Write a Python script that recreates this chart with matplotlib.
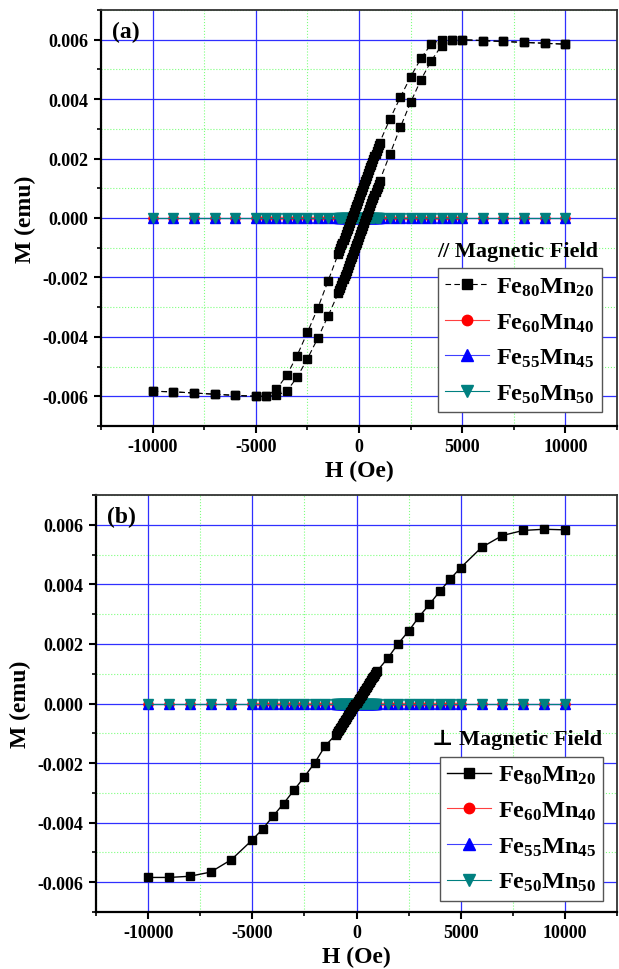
import matplotlib
matplotlib.use('Agg')
import matplotlib.pyplot as plt
from matplotlib.ticker import MultipleLocator, FormatStrFormatter

plt.rcParams['font.family'] = ['Liberation Serif', 'DejaVu Serif']
plt.rcParams['font.weight'] = 'bold'
plt.rcParams['mathtext.fontset'] = 'custom'
plt.rcParams['mathtext.rm'] = 'Liberation Serif:bold'
plt.rcParams['mathtext.it'] = 'Liberation Serif:bold'
plt.rcParams['mathtext.bf'] = 'Liberation Serif:bold'
plt.rcParams['axes.unicode_minus'] = False

# ---------------- data ----------------
H_SWEEP = [-10000, -9000, -8000, -7000, -6000, -5000, -4500, -4000, -3500, -3000,
           -2500, -2000, -1500,
           -1000, -950, -900, -850, -800, -750, -700, -650, -600, -550, -500,
           -450, -400, -350, -300, -250, -200, -150, -100, -50, 0,
           50, 100, 150, 200, 250, 300, 350, 400, 450, 500,
           550, 600, 650, 700, 750, 800, 850, 900, 950, 1000,
           1500, 2000, 2500, 3000, 3500, 4000, 4500, 5000, 6000, 7000, 8000,
           9000, 10000]

# panel (a): parallel field, Fe80Mn20 loop (both branches listed in H_SWEEP order)
M80_A_ASC = [-0.00583, -0.00585, -0.00589, -0.00593, -0.00597, -0.00600, -0.00600,
             -0.00597, -0.00583, -0.00536, -0.00474, -0.00405, -0.00330,
             -0.00252, -0.00243, -0.00234, -0.00224, -0.00215, -0.00205, -0.00196,
             -0.00187, -0.00177, -0.00168, -0.00158, -0.00149, -0.00139, -0.00130,
             -0.00121, -0.00111, -0.00102, -0.00092, -0.00083, -0.00073, -0.00064,
             -0.00055, -0.00045, -0.00036, -0.00026, -0.00017, -0.00007, 0.00002,
             0.00011, 0.00021, 0.00030, 0.00040, 0.00049, 0.00059, 0.00068,
             0.00077, 0.00087, 0.00096, 0.00106, 0.00115, 0.00125,
             0.00215, 0.00305, 0.00389, 0.00465, 0.00529, 0.00580, 0.00600,
             0.00600, 0.00597, 0.00594, 0.00591, 0.00588, 0.00585]
M80_A_DESC = [-0.00583, -0.00585, -0.00589, -0.00593, -0.00597, -0.00600, -0.00600,
              -0.00577, -0.00529, -0.00463, -0.00385, -0.00304, -0.00212,
              -0.00120, -0.00111, -0.00101, -0.00092, -0.00083, -0.00073, -0.00064,
              -0.00055, -0.00045, -0.00036, -0.00027, -0.00017, -0.00008, 0.00002,
              0.00011, 0.00020, 0.00030, 0.00039, 0.00048, 0.00058, 0.00067,
              0.00076, 0.00086, 0.00095, 0.00104, 0.00114, 0.00123, 0.00132,
              0.00142, 0.00151, 0.00161, 0.00170, 0.00179, 0.00189, 0.00198,
              0.00207, 0.00217, 0.00226, 0.00235, 0.00245, 0.00254,
              0.00333, 0.00406, 0.00475, 0.00537, 0.00586, 0.00600, 0.00600,
              0.00600, 0.00597, 0.00594, 0.00591, 0.00588, 0.00585]

# panel (b): perpendicular field, Fe80Mn20
M80_B = [-0.00584, -0.00584, -0.00580, -0.00566, -0.00524, -0.00458, -0.00421,
         -0.00378, -0.00336, -0.00291, -0.00246, -0.00199, -0.00142,
         -0.00105, -0.00099, -0.00094, -0.00088, -0.00083, -0.00078, -0.00072,
         -0.00067, -0.00062, -0.00056, -0.00051, -0.00045, -0.00040, -0.00035,
         -0.00029, -0.00024, -0.00019, -0.00013, -0.00008, -0.00002, 0.00003,
         0.00008, 0.00014, 0.00019, 0.00024, 0.00030, 0.00035, 0.00041,
         0.00046, 0.00051, 0.00057, 0.00062, 0.00068, 0.00073, 0.00078,
         0.00084, 0.00089, 0.00094, 0.00100, 0.00105, 0.00110,
         0.00152, 0.00201, 0.00243, 0.00291, 0.00333, 0.00377, 0.00418,
         0.00456, 0.00524, 0.00564, 0.00581, 0.00585, 0.00583]

# Fe60Mn40, Fe55Mn45, Fe50Mn50: essentially zero magnetisation in both panels
M_SMALL = [0.0, 0.0, 0.0, 0.0, 0.0, 0.0, 0.0, 0.0, 0.0, 0.0, 0.0, 0.0, 0.0,
           0.0, 0.0, 0.0, 0.0, 0.0, 0.0, 0.0, 0.0, 0.0, 0.0, 0.0, 0.0, 0.0, 0.0,
           0.0, 0.0, 0.0, 0.0, 0.0, 0.0, 0.0, 0.0, 0.0, 0.0, 0.0, 0.0, 0.0, 0.0,
           0.0, 0.0, 0.0, 0.0, 0.0, 0.0, 0.0, 0.0, 0.0, 0.0, 0.0, 0.0, 0.0,
           0.0, 0.0, 0.0, 0.0, 0.0, 0.0, 0.0, 0.0, 0.0, 0.0, 0.0, 0.0, 0.0]

LABELS = ['Fe$_{80}$Mn$_{20}$', 'Fe$_{60}$Mn$_{40}$', 'Fe$_{55}$Mn$_{45}$', 'Fe$_{50}$Mn$_{50}$']
PANEL_TAGS = ['(a)', '(b)']
FIELD_TITLES = ['// Magnetic Field', '\u22a5 Magnetic Field']
X_LABEL = 'H (Oe)'
Y_LABEL = 'M (emu)'

# ---------------- figure ----------------
fig = plt.figure(figsize=(6.19, 9.70), dpi=100)
W, Hh = 619.0, 970.0
ax_a = fig.add_axes([101 / W, 1 - 427 / Hh, (617 - 101) / W, 416 / Hh])
ax_b = fig.add_axes([96 / W, 1 - 913 / Hh, (617 - 96) / W, 417 / Hh])

TEAL = '#008080'


def style_axes(ax):
    ax.set_xlim(-12500, 12500)
    ax.set_ylim(-0.007, 0.007)
    ax.xaxis.set_major_locator(MultipleLocator(5000))
    ax.xaxis.set_minor_locator(MultipleLocator(2500))
    ax.yaxis.set_major_locator(MultipleLocator(0.002))
    ax.yaxis.set_minor_locator(MultipleLocator(0.001))
    ax.xaxis.set_major_formatter(FormatStrFormatter('%d'))
    ax.yaxis.set_major_formatter(FormatStrFormatter('%.3f'))
    ax.set_axisbelow(True)
    ax.grid(which='major', color='#2f2fff', lw=0.9, ls='-')
    ax.grid(which='minor', color='#7fff7f', lw=0.8, ls=':')
    ax.tick_params(which='major', direction='out', length=5, width=1.5,
                   labelsize=13, pad=4, top=False, right=False)
    ax.tick_params(which='minor', direction='out', length=3, width=1.2,
                   top=False, right=False)
    for lab in ax.get_xticklabels() + ax.get_yticklabels():
        lab.set_fontweight('bold')
    for side in ['left', 'bottom']:
        ax.spines[side].set_linewidth(1.6)
        ax.spines[side].set_color('black')
    for side in ['top', 'right']:
        ax.spines[side].set_linewidth(1.3)
        ax.spines[side].set_color('#333333')
    ax.set_xlabel(X_LABEL, fontsize=17, fontweight='bold', labelpad=3)
    ax.set_ylabel(Y_LABEL, fontsize=17, fontweight='bold', labelpad=5)


def draw_small(ax):
    ax.plot(H_SWEEP, M_SMALL, color='#ff4040', lw=0.8, marker='o', ms=6.5,
            mfc='red', mec='red', label=LABELS[1], zorder=3)
    ax.plot(H_SWEEP, M_SMALL, color='#4040ff', lw=0.8, marker='^', ms=7,
            mfc='blue', mec='blue', label=LABELS[2], zorder=4)
    ax.plot(H_SWEEP, M_SMALL, color=TEAL, lw=0.8, marker='v', ms=7,
            mfc=TEAL, mec=TEAL, label=LABELS[3], zorder=5)


# panel (a)
style_axes(ax_a)
ax_a.plot(H_SWEEP, M80_A_DESC, color='black', lw=0.8, ls=(0, (5, 3)), marker='s',
          ms=6.2, mfc='black', mec='black', label=LABELS[0], zorder=6)
ax_a.plot(H_SWEEP, M80_A_ASC, color='black', lw=0.8, ls=(0, (5, 3)), marker='s',
          ms=6.2, mfc='black', mec='black', zorder=6)
draw_small(ax_a)

# panel (b)
style_axes(ax_b)
ax_b.plot(H_SWEEP, M80_B, color='black', lw=1.0, marker='s', ms=6.2,
          mfc='black', mec='black', label=LABELS[0], zorder=6)
draw_small(ax_b)

legend_pos = {ax_a: (0.970, 0.033), ax_b: (0.974, 0.027)}
title_pos = {ax_a: (0.963, 0.421), ax_b: (0.971, 0.415)}
for ax, tag, ftitle in zip([ax_a, ax_b], PANEL_TAGS, FIELD_TITLES):
    handles, labels = ax.get_legend_handles_labels()
    leg = ax.legend(handles, labels, loc='lower right', bbox_to_anchor=legend_pos[ax],
                    fontsize=17.5, frameon=True, fancybox=False, framealpha=1,
                    edgecolor='#555555', handlelength=1.8, handletextpad=0.3,
                    labelspacing=0.55, borderpad=0.3, borderaxespad=0,
                    markerscale=1.15)
    leg.get_frame().set_linewidth(1.0)
    for t in leg.get_texts():
        t.set_fontweight('bold')
    ax.text(title_pos[ax][0], title_pos[ax][1], ftitle, transform=ax.transAxes,
            ha='right', va='center', fontsize=16, fontweight='bold',
            family=['Liberation Serif', 'DejaVu Serif'])
    ax.text(0.022, 0.975, tag, transform=ax.transAxes, ha='left', va='top',
            fontsize=17, fontweight='bold')

fig.savefig('out.png', dpi=100)
